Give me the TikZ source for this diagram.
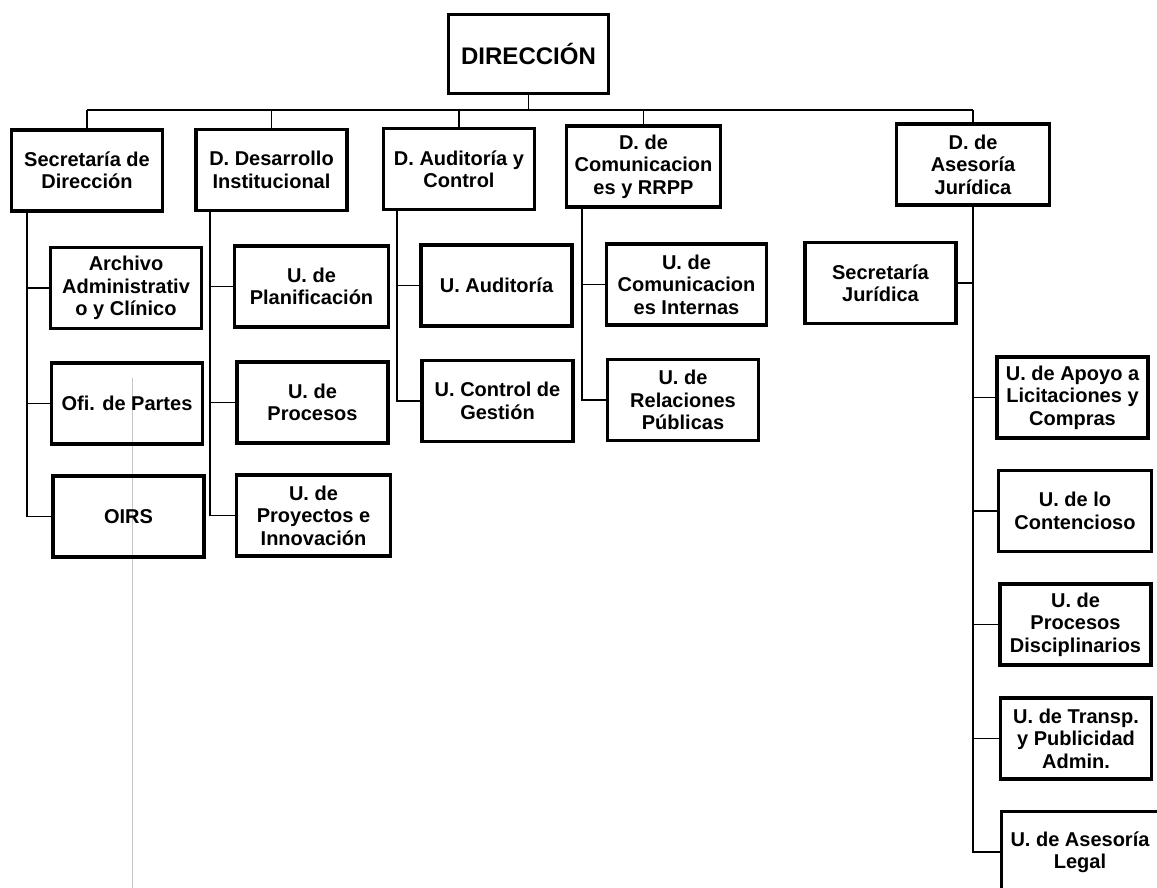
\documentclass[tikz,border=0pt]{standalone}
\usepackage{fontspec}
\setmainfont{Liberation Sans}
\usetikzlibrary{positioning}

\begin{document}
\begin{tikzpicture}[x=0.5pt, y=-0.5pt,
    unit/.style={draw, line width=1.7pt, align=center, inner sep=1pt,
      font=\bfseries\fontsize{10}{11.2}\selectfont,
      minimum width=75.5pt, minimum height=40.5pt},
    link/.style={line width=0.8pt}]
  \useasboundingbox (0,0) rectangle (1157,888);
  \clip (0,0) rectangle (1157,888);
  % faint scan line
  \coordinate (scanA) at (132,378);
  \coordinate (scanB) at (132,888);
  \draw[gray!45, line width=0.35pt] (scanA) -- (scanB);
  % top
  \node[unit, minimum width=80pt, minimum height=39.5pt,
    font=\bfseries\fontsize{12}{14}\selectfont] (dir) at (528.5,54) {DIRECCIÓN};
  % departments
  \node[unit] (sec) at (87,170.5) {Secretaría de\\Dirección};
  \node[unit] (des) at (271.5,170) {D. Desarrollo\\Institucional};
  \node[unit] (aud) at (459,169) {D. Auditoría y\\Control};
  \node[unit, minimum width=77pt] (com) at (643.5,166.5) {D. de\\Comunicacion\\es y RRPP};
  \node[unit, minimum width=76.5pt] (ase) at (973,164.5) {D. de\\Asesoría\\Jurídica};
  % units
  \node[unit] (arch) at (126,288) {Archivo\\Administrativ\\o y Clínico};
  \node[unit] (ofi) at (127,403.5) {Ofi. de Partes};
  \node[unit] (oirs) at (128.5,516.5) {OIRS};
  \node[unit, minimum width=77pt] (plan) at (311.5,286.5) {U. de\\Planificación};
  \node[unit] (proc) at (312.5,402.5) {U. de\\Procesos};
  \node[unit, minimum width=77pt] (proy) at (313.5,515.5) {U. de\\Proyectos e\\Innovación};
  \node[unit] (uaud) at (496.5,285.5) {U. Auditoría};
  \node[unit] (ucg) at (497.5,401) {U. Control de\\Gestión};
  \node[unit, minimum width=80pt] (uci) at (686.5,284.5) {U. de\\Comunicacion\\es Internas};
  \node[unit] (urp) at (683,400) {U. de\\Relaciones\\Públicas};
  \node[unit] (secj) at (880.5,283) {Secretaría\\Jurídica};
  \node[unit] (apoyo) at (1072.5,397.5) {U. de Apoyo a\\Licitaciones y\\Compras};
  \node[unit, minimum width=76.5pt] (cont) at (1075,511) {U. de lo\\Contencioso};
  \node[unit] (disc) at (1075.5,624.5) {U. de\\Procesos\\Disciplinarios};
  \node[unit] (transp) at (1076,738.5) {U. de Transp.\\y Publicidad\\Admin.};
  \node[unit, minimum width=78.5pt] (legal) at (1080,852) {U. de Asesoría\\Legal};
  % bus under the top box
  \coordinate (bus) at (0,110);
  \draw[link] (dir.south) -- (dir.south |- bus);
  \draw[link] (sec.north |- bus) -- (ase.north |- bus);
  \foreach \n in {sec,des,aud,com,ase}
    \draw[link] (\n.north) -- (\n.north |- bus);
  % trunks
  \coordinate (secT) at (27,0);
  \coordinate (desT) at (210,0);
  \coordinate (audT) at (397,0);
  \coordinate (comT) at (582,0);
  \draw[link] (sec.south -| secT) |- (oirs.west);
  \draw[link] (arch.west -| secT) -- (arch.west);
  \draw[link] (ofi.west -| secT) -- (ofi.west);
  \draw[link] (des.south -| desT) |- (proy.west);
  \draw[link] (plan.west -| desT) -- (plan.west);
  \draw[link] (proc.west -| desT) -- (proc.west);
  \draw[link] (aud.south -| audT) |- (ucg.west);
  \draw[link] (uaud.west -| audT) -- (uaud.west);
  \draw[link] (com.south -| comT) |- (urp.west);
  \draw[link] (uci.west -| comT) -- (uci.west);
  \draw[link] (ase.south) |- (legal.west);
  \draw[link] (secj.east) -- (secj.east -| ase.south);
  \foreach \n in {apoyo,cont,disc,transp}
    \draw[link] (\n.west -| ase.south) -- (\n.west);
\end{tikzpicture}
\end{document}
